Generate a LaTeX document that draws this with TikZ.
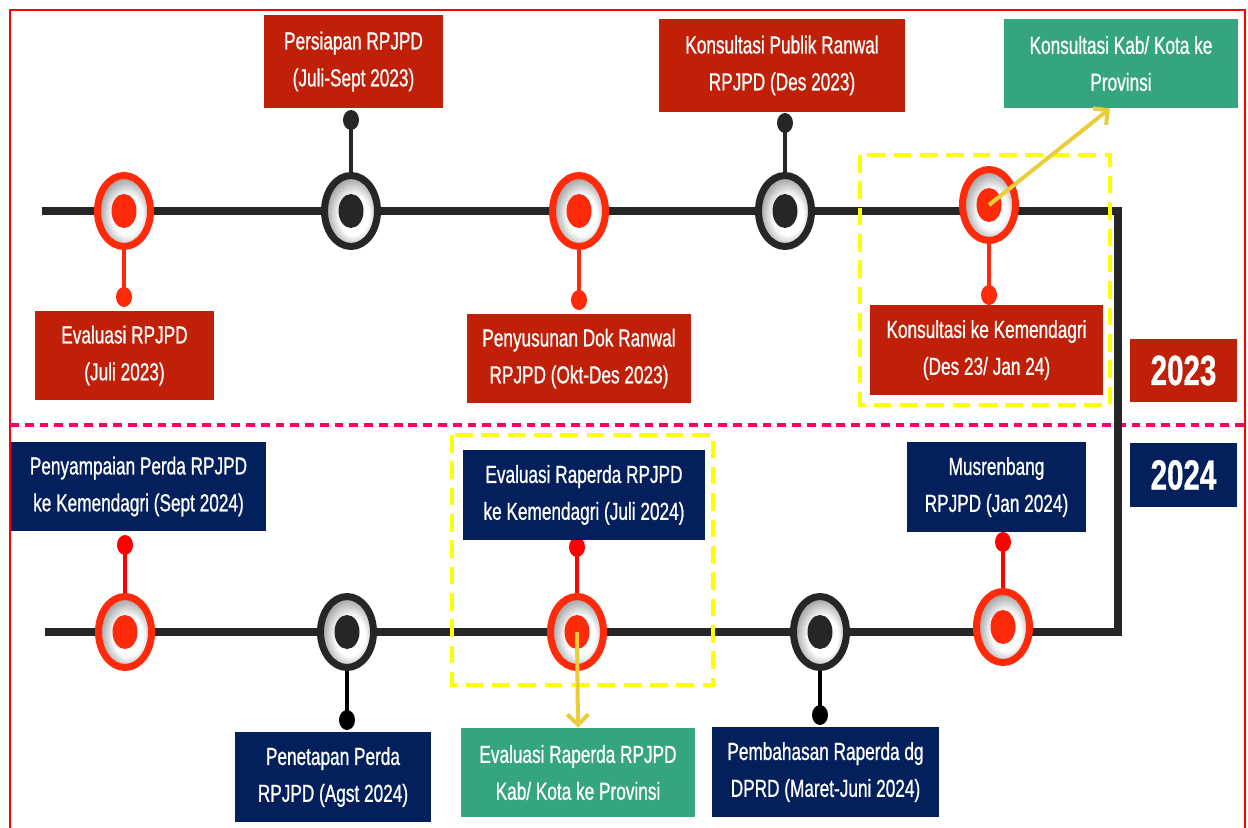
\documentclass[tikz,border=0pt]{standalone}
\usepackage{fontspec}
\setmainfont{Liberation Sans}[FakeStretch=0.7,FakeBold=0.8]
\usetikzlibrary{shapes.geometric,arrows.meta}

\definecolor{boxred}{RGB}{192,31,8}
\definecolor{boxnavy}{RGB}{3,31,92}
\definecolor{boxgreen}{RGB}{52,165,125}
\definecolor{ringred}{RGB}{255,42,10}
\definecolor{ringblack}{RGB}{38,38,38}
\definecolor{hilite}{RGB}{255,255,0}
\definecolor{arrowgold}{RGB}{235,205,60}
\definecolor{splitpink}{RGB}{255,0,102}
\pgfdeclareradialshading{ringshade}{\pgfpoint{4bp}{-4bp}}{color(0bp)=(white); color(14bp)=(white); color(26bp)=(gray!75); color(50bp)=(gray!75)}

\begin{document}
\begin{tikzpicture}[x=0.02cm,y=-0.02cm,
    line/.style={draw=ringblack,line width=4.5pt},
    ring/.style={ellipse,draw=#1,line width=4pt,inner sep=0pt,minimum width=1.06cm,
        minimum height=1.42cm,shade,shading=ringshade},
    core/.style={ellipse,fill=#1,inner sep=0pt,minimum width=0.5cm,minimum height=0.68cm},
    pin/.style={ellipse,fill=#1,inner sep=0pt,minimum width=0.32cm,minimum height=0.4cm},
    stem/.style={draw=#1,line width=2.3pt},
    box/.style={fill=#1,text=white,align=center,inner sep=2pt,
        font=\fontsize{14}{21}\selectfont},
    sz/.style 2 args={minimum width=#1,minimum height=#2},
    year/.style={fill=#1,text=white,sz={2.14cm}{1.27cm},
        font=\fontsize{24}{24}\selectfont\bfseries},
    focus/.style={draw=hilite,line width=2.3pt,dash pattern=on 10pt off 5pt},
    hint/.style={draw=arrowgold,line width=2.3pt,-{Straight Barb[length=6pt,width=12pt]}}]

    \useasboundingbox (0,0) rectangle (1248,828);
    \draw[red,line width=1.2pt] (10,828) |- (1245,10) -- (1245,828);
    \draw[splitpink,line width=2.3pt,dash pattern=on 5pt off 3.4pt] (10,425) -- (1245,425);

    % timeline
    \coordinate (a0) at (42,211);
    \coordinate (a1) at (1118,211);
    \coordinate (b1) at (1118,632);
    \coordinate (b0) at (45,632);
    \draw[line] (a0) -- (a1) -- (b1) -- (b0);

    % 2023
    \node[ring=ringred]     (t1)  at (124,211) {};
    \node[core=ringred]     (t1c) at (t1) {};
    \node[pin=ringred]      (t1p) at (124,297) {};
    \node[box=boxred,sz={3.58cm}{1.78cm}] (t1b) at (124.5,355.5) {Evaluasi RPJPD\\(Juli 2023)};
    \draw[stem=ringred] (t1.south) -- (t1p.center);

    \node[ring=ringblack]   (t2)  at (351,211) {};
    \node[core=ringblack]   (t2c) at (t2) {};
    \node[pin=ringblack]    (t2p) at (351,120) {};
    \node[box=boxred,sz={3.58cm}{1.86cm}] (t2b) at (353.5,61.5) {Persiapan RPJPD\\(Juli-Sept 2023)};
    \draw[stem=ringblack] (t2.north) -- (t2p.center);

    \node[ring=ringred]     (t3)  at (579,211) {};
    \node[core=ringred]     (t3c) at (t3) {};
    \node[pin=ringred]      (t3p) at (579,300) {};
    \node[box=boxred,sz={4.48cm}{1.78cm}] (t3b) at (579,358.5) {Penyusunan Dok Ranwal\\RPJPD (Okt-Des 2023)};
    \draw[stem=ringred] (t3.south) -- (t3p.center);

    \node[ring=ringblack]   (t4)  at (785,211) {};
    \node[core=ringblack]   (t4c) at (t4) {};
    \node[pin=ringblack]    (t4p) at (785,123) {};
    \node[box=boxred,sz={4.92cm}{1.86cm}] (t4b) at (782,65.5) {Konsultasi Publik Ranwal\\RPJPD (Des 2023)};
    \draw[stem=ringblack] (t4.north) -- (t4p.center);

    \node[ring=ringred]     (t5)  at (989,205) {};
    \node[core=ringred]     (t5c) at (t5) {};
    \node[pin=ringred]      (t5p) at (989,295) {};
    \node[box=boxred,sz={4.66cm}{1.80cm}] (t5b) at (986.5,350) {Konsultasi ke Kemendagri\\(Des 23/ Jan 24)};
    \draw[stem=ringred] (t5.south) -- (t5p.center);

    \node[box=boxgreen,sz={4.68cm}{1.78cm}] (kab) at (1121,63.5) {Konsultasi Kab/ Kota ke\\Provinsi};
    \node[year=boxred]  (y23) at (1183.5,370.5) {2023};

    % 2024
    \node[ring=ringred]     (b1r) at (125,632) {};
    \node[core=ringred]     (b1c) at (b1r) {};
    \node[pin=red]          (b1p) at (125,545) {};
    \node[box=boxnavy,sz={5.10cm}{1.78cm}] (b1b) at (138.5,486.5) {Penyampaian Perda RPJPD\\ke Kemendagri (Sept 2024)};
    \draw[stem=red] (b1r.north) -- (b1p.center);

    \node[ring=ringblack]   (b2r) at (347,632) {};
    \node[core=ringblack]   (b2c) at (b2r) {};
    \node[pin=black]        (b2p) at (347,720) {};
    \node[box=boxnavy,sz={3.92cm}{1.80cm}] (b2b) at (333,777) {Penetapan Perda\\RPJPD (Agst 2024)};
    \draw[stem=black] (b2r.south) -- (b2p.center);

    \node[ring=ringred]     (b3r) at (577,632) {};
    \node[core=ringred]     (b3c) at (b3r) {};
    \node[pin=red]          (b3p) at (577,547) {};
    \node[box=boxnavy,sz={4.84cm}{1.80cm}] (b3b) at (584,495) {Evaluasi Raperda RPJPD\\ke Kemendagri (Juli 2024)};
    \draw[stem=red] (b3r.north) -- (b3p.center);

    \node[ring=ringblack]   (b4r) at (820,632) {};
    \node[core=ringblack]   (b4c) at (b4r) {};
    \node[pin=black]        (b4p) at (820,715) {};
    \node[box=boxnavy,sz={4.54cm}{1.80cm}] (b4b) at (825.5,772) {Pembahasan Raperda dg\\DPRD (Maret-Juni 2024)};
    \draw[stem=black] (b4r.south) -- (b4p.center);

    \node[ring=ringred]     (b5r) at (1003,627) {};
    \node[core=ringred]     (b5c) at (b5r) {};
    \node[pin=red]          (b5p) at (1003,542) {};
    \node[box=boxnavy,sz={3.58cm}{1.80cm}] (b5b) at (996.5,487) {Musrenbang\\RPJPD (Jan 2024)};
    \draw[stem=red] (b5r.north) -- (b5p.center);

    \node[box=boxgreen,sz={4.68cm}{1.78cm}] (prov) at (578,772.5) {Evaluasi Raperda RPJPD\\Kab/ Kota ke Provinsi};
    \node[year=boxnavy] (y24) at (1183.5,475) {2024};

    % highlight
    \draw[focus] (860,155) rectangle (1110,405);
    \draw[focus] (452,435) rectangle (713,685);
    \draw[hint] (t5c.center) -- ([xshift=-0.22cm]kab.south);
    \draw[hint] (b3c.center) -- (prov.north);
\end{tikzpicture}
\end{document}
